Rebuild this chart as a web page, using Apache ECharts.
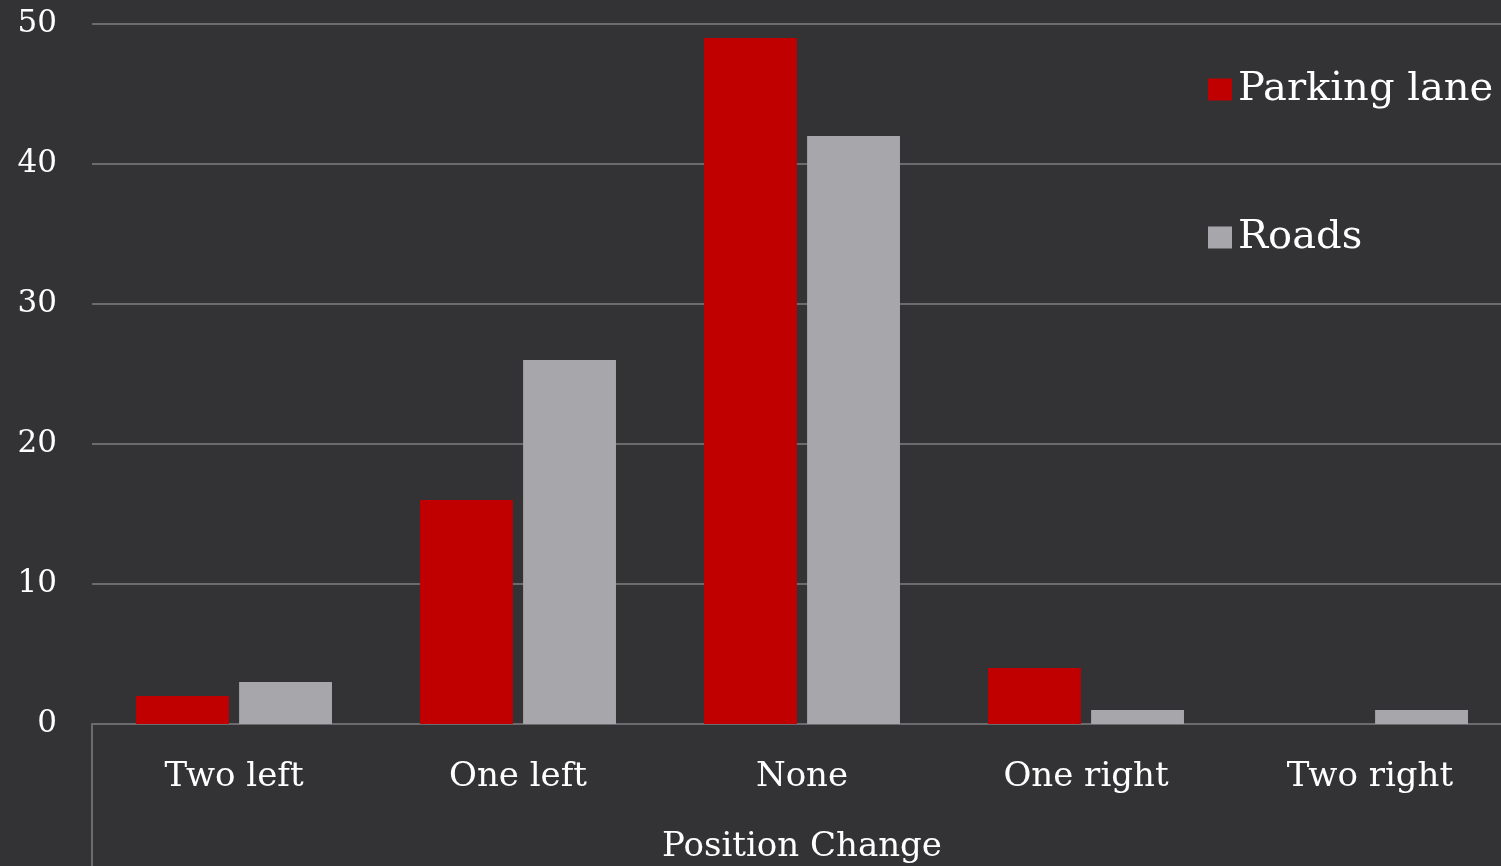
<!DOCTYPE html>
<html>
<head>
<meta charset="utf-8">
<script src="https://cdn.jsdelivr.net/npm/echarts@6/dist/echarts.min.js"></script>
<style>
  html, body { margin: 0; padding: 0; background: #333335; }
  #chart { width: 1501px; height: 866px; }
</style>
</head>
<body>
<div id="chart"></div>
<script>
// Position changes, counted per lane type
const categories = ['Two left', 'One left', 'None', 'One right', 'Two right'];
const parkingLane = [2, 16, 49, 4, 0];
const roads = [3, 26, 42, 1, 1];
const yTicks = { min: 0, max: 50, interval: 10 };

const FONT = '"DejaVu Serif", "Liberation Serif", serif';
const GRID_COLOR = '#6b6b6d';

const chart = echarts.init(document.getElementById('chart'));
chart.setOption({
  backgroundColor: '#333335',
  animation: false,
  textStyle: { fontFamily: FONT, color: '#ffffff' },
  grid: { left: 92, right: -11, top: 24, bottom: 142, containLabel: false, outerBoundsMode: 'none' },
  legend: {
    orient: 'vertical',
    left: 1203,
    top: 64,
    itemWidth: 24,
    itemHeight: 22,
    itemGap: 107,
    icon: 'rect',
    textStyle: { fontFamily: FONT, fontSize: 40, color: '#ffffff', lineHeight: 41, padding: [0, 0, 0, 1] },
    data: ['Parking lane', 'Roads']
  },
  xAxis: {
    type: 'category',
    data: categories,
    name: 'Position Change',
    nameLocation: 'middle',
    nameGap: 123,
    nameTextStyle: { fontFamily: FONT, fontSize: 34, color: '#ffffff', verticalAlign: 'middle' },
    axisLine: { show: true, lineStyle: { color: GRID_COLOR, width: 2 } },
    axisTick: {
      show: true,
      length: 142,
      inside: false,
      interval: function (index) { return index === 0; },
      lineStyle: { color: GRID_COLOR, width: 2 }
    },
    axisLabel: { fontFamily: FONT, fontSize: 34, color: '#ffffff', margin: 36 }
  },
  yAxis: {
    type: 'value',
    min: yTicks.min,
    max: yTicks.max,
    interval: yTicks.interval,
    axisLine: { show: false },
    axisTick: { show: false },
    splitLine: { lineStyle: { color: GRID_COLOR, width: 2 } },
    axisLabel: { fontFamily: FONT, fontSize: 31, color: '#ffffff', margin: 35 }
  },
  series: [
    {
      name: 'Parking lane',
      type: 'bar',
      data: parkingLane,
      barGap: '11%',
      barCategoryGap: '31%',
      itemStyle: { color: '#c00000' }
    },
    {
      name: 'Roads',
      type: 'bar',
      data: roads,
      itemStyle: { color: '#a7a7ab' }
    }
  ]
});
</script>
</body>
</html>
